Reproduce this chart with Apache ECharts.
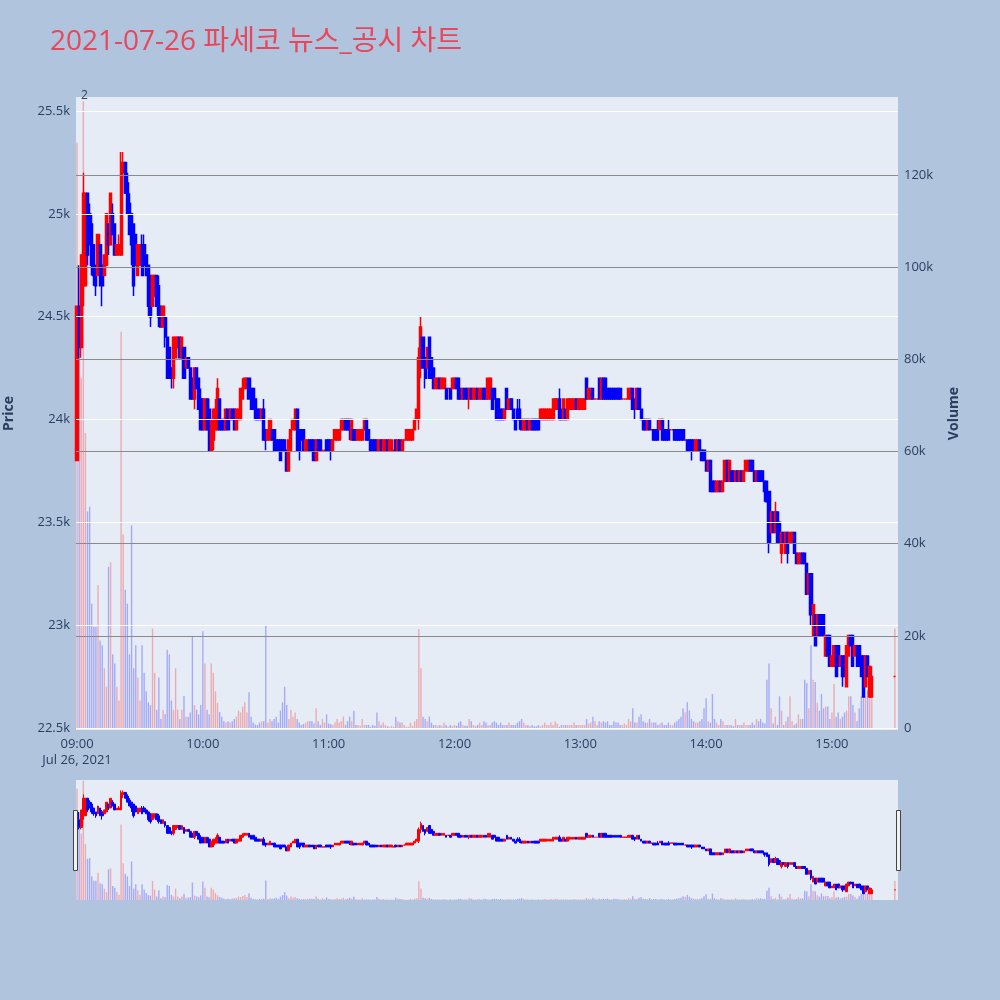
<!DOCTYPE html>
<html><head><meta charset="utf-8">
<script src="https://cdn.jsdelivr.net/npm/echarts@6/dist/echarts.min.js"></script>
<style>html,body{margin:0;padding:0;background:#B0C4DE}#c{width:1000px;height:1000px}</style>
</head><body><div id="c"></div>
<script>
// [open, close, low, high] per minute 09:00 .. 15:19
const candles = [
[23800,24550,23800,24550],[24550,24350,24300,24750],[24350,24800,24300,24800],[24650,25100,24550,25200],[24650,25100,24650,25100],[25100,24800,24750,25100],[25000,24850,24850,25050],[24950,24750,24700,25000],[24850,24700,24650,24850],[24750,24650,24600,24750],
[24700,24900,24700,24900],[24850,24650,24650,24850],[24750,24650,24550,24800],[24700,24800,24700,24800],[24750,25000,24750,25000],[24950,24850,24800,24950],[24850,25100,24850,25100],[25000,24900,24900,25050],[24950,24800,24800,24950],[24800,24850,24800,24850],
[24800,24850,24800,24900],[24800,25250,24800,25300],[25200,25250,25100,25300],[25250,25100,25100,25250],[25150,25000,25000,25200],[25050,24900,24900,25100],[25000,24850,24750,25000],[24950,24650,24600,24950],[24900,24750,24750,24900],[24700,24850,24700,24850],
[24750,24850,24750,24850],[24850,24700,24700,24900],[24850,24750,24750,24900],[24800,24700,24700,24800],[24750,24550,24500,24750],[24700,24500,24450,24700],[24550,24700,24550,24700],[24600,24700,24600,24700],[24700,24550,24550,24700],[24650,24500,24450,24700],
[24550,24450,24450,24550],[24450,24550,24450,24550],[24500,24400,24350,24500],[24400,24200,24200,24400],[24350,24200,24200,24350],[24250,24200,24150,24250],[24200,24400,24150,24400],[24300,24400,24300,24400],[24350,24400,24350,24400],[24400,24300,24300,24400],
[24300,24400,24300,24400],[24350,24200,24200,24350],[24250,24300,24250,24300],[24300,24250,24250,24300],[24250,24100,24100,24250],[24200,24100,24100,24200],[24100,24250,24050,24250],[24250,24150,24150,24250],[24200,24050,24050,24200],[24100,23950,23950,24150],
[24100,23950,23950,24100],[23950,24100,23950,24100],[24100,23950,23950,24100],[24050,23850,23850,24100],[23850,24000,23850,24000],[23900,24050,23850,24050],[23950,24050,23950,24100],[23950,24150,23950,24200],[24100,23950,23950,24100],[24000,23950,23950,24000],
[24000,23950,23950,24000],[23950,24050,23950,24050],[24050,23950,23950,24050],[24000,24050,24000,24050],[24050,24000,24000,24050],[24050,23950,23950,24050],[23950,24050,23950,24050],[24000,24050,24000,24050],[24000,24150,24000,24150],[24100,24150,24100,24200],
[24150,24200,24150,24200],[24150,24200,24150,24200],[24200,24100,24100,24200],[24150,24050,24050,24150],[24150,24050,24050,24150],[24100,24000,24000,24100],[24050,24000,24000,24050],[24050,24000,24000,24050],[24000,24050,24000,24050],[24050,23900,23900,24100],
[23950,23900,23850,23950],[23900,23950,23900,23950],[23900,24000,23900,24000],[23950,23900,23900,23950],[23950,23850,23850,23950],[23900,23850,23850,23900],[23900,23850,23850,23900],[23900,23800,23800,23900],[23900,23850,23850,23900],[23900,23850,23850,23900],
[23850,23750,23750,23850],[23750,23900,23750,23900],[23850,23950,23850,23950],[23950,24000,23950,24000],[23950,24050,23950,24050],[24050,23850,23850,24050],[23950,23850,23800,23950],[23950,23900,23900,23950],[23950,23850,23850,23950],[23850,23900,23850,23900],
[23850,23900,23850,23900],[23900,23850,23850,23900],[23900,23850,23850,23900],[23900,23800,23800,23900],[23800,23900,23800,23900],[23900,23850,23850,23900],[23900,23850,23850,23900],[23850,23850,23850,23850],[23850,23850,23850,23850],[23900,23850,23850,23900],
[23900,23850,23850,23900],[23900,23850,23800,23900],[23850,23900,23850,23900],[23900,23950,23900,23950],[23900,23950,23900,23950],[23900,23950,23900,23950],[23950,24000,23950,24000],[23950,24000,23950,24000],[24000,23950,23950,24000],[24000,23950,23950,24000],
[24000,23950,23900,24000],[23900,24000,23900,24000],[23950,23900,23900,23950],[23950,23900,23900,23950],[23900,23950,23900,23950],[23900,23950,23900,23950],[23900,23950,23900,23950],[23950,24000,23950,24000],[24000,23900,23900,24000],[23950,23900,23900,23950],
[23900,23850,23850,23900],[23900,23850,23850,23900],[23900,23850,23850,23900],[23900,23850,23850,23900],[23850,23900,23850,23900],[23900,23850,23850,23900],[23850,23900,23850,23900],[23850,23900,23850,23900],[23900,23850,23850,23900],[23850,23900,23850,23900],
[23850,23900,23850,23900],[23850,23850,23850,23850],[23900,23850,23850,23900],[23850,23900,23850,23900],[23900,23850,23850,23900],[23850,23900,23850,23900],[23900,23900,23900,23900],[23900,23950,23900,23950],[23900,23950,23900,23950],[23900,23950,23900,23950],
[23900,23950,23900,23950],[23950,24000,23950,24000],[24000,24050,24000,24050],[24000,24300,23950,24350],[24300,24450,24200,24500],[24400,24250,24250,24400],[24300,24200,24150,24300],[24250,24350,24250,24350],[24400,24200,24200,24400],[24300,24200,24200,24300],
[24250,24150,24150,24250],[24150,24200,24150,24200],[24150,24200,24150,24200],[24200,24150,24150,24200],[24150,24200,24150,24200],[24150,24200,24150,24200],[24150,24100,24100,24150],[24150,24150,24150,24150],[24150,24100,24100,24150],[24150,24200,24150,24200],
[24150,24200,24150,24200],[24200,24150,24150,24200],[24200,24100,24100,24200],[24150,24100,24100,24150],[24100,24150,24100,24150],[24150,24100,24100,24150],[24150,24100,24100,24150],[24100,24150,24050,24150],[24150,24100,24100,24150],[24100,24150,24100,24150],
[24100,24150,24100,24150],[24150,24100,24100,24150],[24100,24150,24100,24150],[24100,24150,24100,24150],[24150,24100,24100,24150],[24150,24100,24100,24150],[24100,24200,24100,24200],[24100,24200,24100,24200],[24150,24050,24050,24150],[24150,24100,24100,24150],
[24100,24000,24000,24100],[24100,24000,24000,24100],[24050,24000,24000,24050],[24050,24000,24000,24050],[24000,24050,24000,24050],[24150,24050,24050,24150],[24050,24100,24050,24100],[24100,24050,24050,24100],[24050,24000,24000,24050],[24000,23950,23950,24000],
[24050,24000,24000,24100],[24050,24000,23950,24100],[24000,23950,23950,24000],[23950,24000,23950,24000],[23950,24000,23950,24000],[24000,23950,23950,24000],[23950,24000,23950,24000],[24000,23950,23950,24000],[24000,23950,23950,24000],[24000,23950,23950,24000],
[24000,23950,23950,24000],[24000,24050,24000,24050],[24000,24050,24000,24050],[24000,24050,24000,24050],[24000,24050,24000,24050],[24000,24050,24000,24050],[24000,24050,24000,24050],[24000,24100,24000,24100],[24050,24100,24050,24100],[24050,24100,24050,24100],
[24100,24000,24000,24150],[24050,24000,24000,24050],[24000,24100,24000,24100],[24050,24000,24000,24050],[24000,24100,24000,24100],[24050,24100,24050,24100],[24050,24100,24050,24100],[24050,24100,24050,24100],[24100,24050,24050,24100],[24050,24100,24050,24100],
[24050,24100,24050,24100],[24050,24100,24050,24100],[24050,24100,24050,24100],[24200,24100,24100,24200],[24100,24150,24100,24150],[24100,24150,24100,24150],[24150,24100,24100,24150],[24100,24100,24100,24100],[24100,24100,24100,24100],[24200,24100,24100,24200],
[24100,24200,24100,24200],[24200,24100,24100,24200],[24200,24100,24100,24200],[24150,24100,24100,24150],[24150,24100,24100,24150],[24150,24100,24100,24150],[24150,24100,24100,24150],[24150,24100,24100,24150],[24150,24100,24100,24150],[24150,24100,24100,24150],
[24100,24100,24100,24100],[24100,24100,24100,24100],[24100,24100,24100,24100],[24100,24150,24100,24150],[24100,24150,24100,24150],[24150,24050,24050,24150],[24100,24050,24000,24100],[24050,24150,24050,24150],[24150,24050,24050,24150],[24050,24000,24000,24050],
[24000,23950,23950,24000],[24000,23950,23950,24000],[23950,24000,23950,24000],[24000,23950,23950,24000],[23950,23950,23950,23950],[23950,23900,23900,23950],[23950,23900,23900,23950],[23950,23900,23900,24000],[23950,24000,23950,24000],[24000,23900,23900,24000],
[23950,23900,23900,23950],[23950,23900,23900,23950],[23950,23900,23900,24000],[23950,23950,23950,23950],[23950,23950,23950,23950],[23950,23900,23900,23950],[23950,23900,23900,23950],[23950,23900,23900,23950],[23950,23900,23900,23950],[23950,23900,23900,23950],
[23900,23900,23900,23900],[23900,23850,23850,23900],[23900,23850,23850,23900],[23900,23850,23800,23900],[23900,23850,23850,23900],[23850,23900,23850,23900],[23850,23900,23850,23900],[23900,23850,23850,23900],[23850,23800,23800,23850],[23850,23800,23800,23850],
[23800,23750,23750,23800],[23750,23800,23750,23800],[23800,23650,23650,23800],[23700,23650,23650,23700],[23700,23650,23650,23700],[23650,23700,23650,23700],[23650,23700,23650,23700],[23700,23650,23650,23700],[23650,23700,23650,23700],[23700,23800,23700,23800],
[23800,23700,23700,23800],[23700,23800,23700,23800],[23750,23700,23700,23750],[23750,23700,23700,23750],[23700,23750,23700,23750],[23750,23700,23700,23750],[23700,23750,23700,23750],[23750,23700,23700,23750],[23700,23750,23700,23750],[23750,23800,23750,23800],
[23750,23800,23750,23800],[23800,23750,23750,23800],[23800,23750,23750,23800],[23750,23700,23700,23750],[23700,23750,23700,23750],[23750,23700,23700,23750],[23750,23700,23700,23750],[23750,23700,23700,23750],[23700,23650,23600,23700],[23700,23600,23600,23700],
[23650,23400,23350,23650],[23450,23550,23450,23550],[23550,23450,23450,23550],[23450,23550,23450,23600],[23550,23400,23400,23550],[23500,23400,23400,23500],[23350,23450,23300,23450],[23450,23400,23400,23450],[23350,23450,23350,23450],[23450,23350,23300,23450],
[23400,23450,23400,23450],[23400,23450,23400,23450],[23450,23350,23350,23450],[23350,23300,23300,23350],[23300,23350,23300,23350],[23300,23350,23300,23350],[23350,23300,23300,23350],[23350,23300,23300,23350],[23300,23150,23150,23300],[23150,23250,23150,23250],
[23250,23050,23000,23250],[22950,23100,22950,23100],[23050,22900,22900,23050],[22950,23050,22950,23050],[23050,22950,22950,23050],[23050,22950,22950,23050],[23050,22950,22950,23050],[22850,22950,22850,22950],[22950,22850,22850,22950],[22950,22800,22800,22950],
[22800,22850,22800,22850],[22800,22900,22800,22900],[22900,22750,22750,22900],[22900,22800,22800,22900],[22800,22850,22800,22850],[22850,22750,22700,22850],[22850,22750,22750,22850],[22700,22900,22700,22900],[22850,22950,22850,22950],[22950,22900,22900,22950],
[22950,22800,22800,22950],[22850,22900,22850,22900],[22900,22800,22800,22900],[22900,22800,22800,22900],[22850,22750,22750,22850],[22850,22650,22650,22850],[22700,22850,22700,22850],[22850,22750,22750,22850],[22650,22800,22650,22800],[22650,22750,22650,22800]
];
const volumes = [
127000,100000,76000,136000,64000,47000,48000,27000,22000,22000,31000,19000,18000,13000,9000,35000,36000,16000,14000,9000,6000,86000,42000,30000,27000,16000,44000,13000,18000,11000,6000,18000,
12000,8000,5600,5000,21600,12000,4000,11000,2000,4000,3000,17000,16000,6000,4000,13000,4000,2000,4000,7000,2500,2500,3400,20000,5000,4000,3000,5000,21000,14000,4000,3000,14000,12000,
8000,5500,3500,2500,1500,1200,1500,1200,1500,2000,2500,3800,3400,4700,5600,3400,7800,2500,1200,800,700,1200,1500,1500,22300,1200,2000,1500,2000,2500,1200,3800,5600,
9000,5000,2000,4000,2500,3400,2000,1200,700,900,1200,1500,1500,1500,1000,4300,1500,700,2000,1200,3000,1000,900,700,1200,2000,1200,1500,2500,700,1500,2500,
1500,3800,700,700,500,2000,700,700,700,300,700,500,3400,1500,700,1200,700,400,300,500,300,2500,1500,1200,1200,700,300,300,1200,500,1500,2000,21500,
13000,2500,2000,1500,2500,1200,700,700,500,700,500,1200,700,300,700,500,700,500,1200,1500,700,500,500,2000,1500,700,500,700,1200,700,1500,1200,700,
700,1200,1500,1200,700,1200,700,700,700,1200,700,700,700,1200,1500,2000,1200,700,700,400,700,400,400,700,400,700,1200,700,700,1200,700,1500,1000,
300,700,700,700,700,700,700,1200,700,700,700,700,700,2000,1000,1200,2500,1500,700,1500,1200,1500,1200,1500,700,700,1500,1200,1200,700,700,1000,700,
2000,1500,4300,1200,1200,2500,3000,1500,1200,1200,2000,1200,1200,1200,700,1000,1200,700,700,1200,700,700,1200,1500,2000,2500,4300,3400,5600,3800,2000,1500,1200,
1200,1500,2000,4300,6500,1500,1200,7400,2000,1200,700,2000,1500,700,700,700,700,400,2000,700,700,700,1200,700,700,700,1200,700,2000,1500,2000,1200,1000,
10500,14000,4300,1000,2500,700,6900,3800,700,1500,2500,6900,1500,700,1000,3000,2000,2000,10500,9800,4300,18000,10500,10000,5500,3800,7400,4300,4700,4700,2000,3400,9600,
2500,3400,2000,2500,3400,3800,6900,6900,5000,3400,1500,4300,6900,6500,6900,8200,10500,7000
];
const auctionTime = '15:30';
const auctionCandle = [22750,22750,22750,22750];
const auctionVolume = 21600;
const priceTicks = [22500,23000,23500,24000,24500,25000,25500];
const volumeTicks = [20000,40000,60000,80000,100000,120000];
const hourLabels = ['09:00','10:00','11:00','12:00','13:00','14:00','15:00'];
const dateLabel = 'Jul 26, 2021';
const titleText = '2021-07-26 파세코 뉴스_공시 차트';

const pad = n => (n < 10 ? '0' : '') + n;
const minuteLabels = [];
for (let h = 9; h <= 15; h++) for (let m = 0; m < 60; m++) { if (h === 15 && m > 31) break; minuteLabels.push(pad(h) + ':' + pad(m)); }

const UP = '#FF0000', DOWN = '#0000FF';
const VUP = 'rgba(255,0,0,0.28)', VDOWN = 'rgba(0,0,255,0.28)';
const EMPTY = ['-','-','-','-'];
const candleData = minuteLabels.map((t, i) => i < candles.length ? candles[i] : (t === auctionTime ? auctionCandle : EMPTY));
const volData = minuteLabels.map((t, i) => {
  let v = '-', c = candleData[i];
  if (i < volumes.length) v = volumes[i]; else if (t === auctionTime) v = auctionVolume;
  return { value: v, itemStyle: { color: (c[0] !== '-' && c[1] >= c[0]) ? VUP : VDOWN } };
});

const FONT = '"Open Sans", "Noto Sans CJK KR", sans-serif';
const TXT = '#2a3f5f';
const chart = echarts.init(document.getElementById('c'), null, { renderer: 'canvas' });
const candleStyle = { color: UP, color0: DOWN, borderColor: UP, borderColor0: DOWN, borderColorDoji: UP, borderWidth: 1.5 };

chart.setOption({
  animation: false,
  backgroundColor: '#B0C4DE',
  title: { text: titleText, left: 45, top: 23, textStyle: { color: '#E8475B', fontSize: 28, fontWeight: 'normal', fontFamily: FONT } },
  grid: [
    { left: 76, right: 102, top: 97, height: 633, show: true, backgroundColor: '#E5ECF6', borderWidth: 0, containLabel: false, outerBoundsMode: 'none' },
    { left: 76, right: 102, top: 780, height: 120, show: true, backgroundColor: '#E5ECF6', borderWidth: 0, containLabel: false, outerBoundsMode: 'none' }
  ],
  xAxis: [
    { type: 'category', gridIndex: 0, data: minuteLabels, boundaryGap: true,
      axisLine: { show: false }, axisTick: { show: false }, splitLine: { show: false },
      axisLabel: { interval: (i, v) => hourLabels.includes(v), formatter: v => v === '09:00' ? v + '\n' + dateLabel : v,
        color: TXT, fontSize: 13, fontFamily: FONT, margin: 6, lineHeight: 16 } },
    { type: 'category', gridIndex: 1, data: minuteLabels, boundaryGap: true,
      axisLine: { show: false }, axisTick: { show: false }, axisLabel: { show: false }, splitLine: { show: false } }
  ],
  yAxis: [
    { type: 'value', gridIndex: 0, min: 22490, max: 25568, interval: 10, position: 'left',
      axisLine: { show: false }, axisTick: { show: false }, splitLine: { show: false },
      axisLabel: { formatter: v => (v % 500 === 0 ? (v / 1000) + 'k' : ''), color: TXT, fontSize: 13, fontFamily: FONT, margin: 6 },
      name: 'Price', nameLocation: 'middle', nameGap: 60, nameRotate: 90,
      nameTextStyle: { color: TXT, fontSize: 14, fontWeight: 'bold', fontFamily: FONT } },
    { type: 'value', gridIndex: 0, min: -400, max: 136900, interval: 400, position: 'right',
      axisLine: { show: false }, axisTick: { show: false }, splitLine: { show: false },
      axisLabel: { formatter: v => (v >= 0 && v % 20000 === 0 ? (v === 0 ? '0' : (v / 1000) + 'k') : ''), color: TXT, fontSize: 13, fontFamily: FONT, margin: 6 },
      name: 'Volume', nameLocation: 'middle', nameGap: 49, nameRotate: 90,
      nameTextStyle: { color: TXT, fontSize: 14, fontWeight: 'bold', fontFamily: FONT } },
    { type: 'value', gridIndex: 1, min: 22490, max: 25568, show: false, splitLine: { show: false } },
    { type: 'value', gridIndex: 1, min: 0, max: 136900, show: false, splitLine: { show: false } }
  ],
  series: [
    { type: 'line', xAxisIndex: 0, yAxisIndex: 0, data: [], silent: true, z: 0,
      markLine: { silent: true, symbol: ['none', 'none'], label: { show: false }, animation: false,
        lineStyle: { color: '#FFFFFF', width: 1, type: 'solid' }, data: priceTicks.map(v => ({ yAxis: v })) } },
    { type: 'bar', name: 'Volume', xAxisIndex: 0, yAxisIndex: 1, data: volData, barWidth: 1.4, z: 1,
      markLine: { silent: true, symbol: ['none', 'none'], label: { show: false }, animation: false,
        lineStyle: { color: '#8A8A8A', width: 1, type: 'solid' }, data: volumeTicks.map(v => ({ yAxis: v })) } },
    { type: 'candlestick', name: 'Price', xAxisIndex: 0, yAxisIndex: 0, data: candleData, barWidth: 2.6, z: 2,
      itemStyle: candleStyle },
    { type: 'bar', xAxisIndex: 1, yAxisIndex: 3, data: volData, barWidth: 1.4, z: 1 },
    { type: 'candlestick', xAxisIndex: 1, yAxisIndex: 2, data: candleData, barWidth: 2.2, z: 2,
      itemStyle: Object.assign({}, candleStyle, { borderWidth: 1 }) }
  ],
  graphic: [
    { type: 'text', left: 81, top: 90, style: { text: '2', fill: TXT, font: '12px ' + FONT } },
    { type: 'rect', shape: { x: 73.5, y: 810.5, width: 4, height: 60 }, style: { fill: '#F2F2F2', stroke: '#444', lineWidth: 1 }, z: 100 },
    { type: 'rect', shape: { x: 896.5, y: 810.5, width: 4, height: 60 }, style: { fill: '#F2F2F2', stroke: '#444', lineWidth: 1 }, z: 100 }
  ]
});
</script></body></html>
